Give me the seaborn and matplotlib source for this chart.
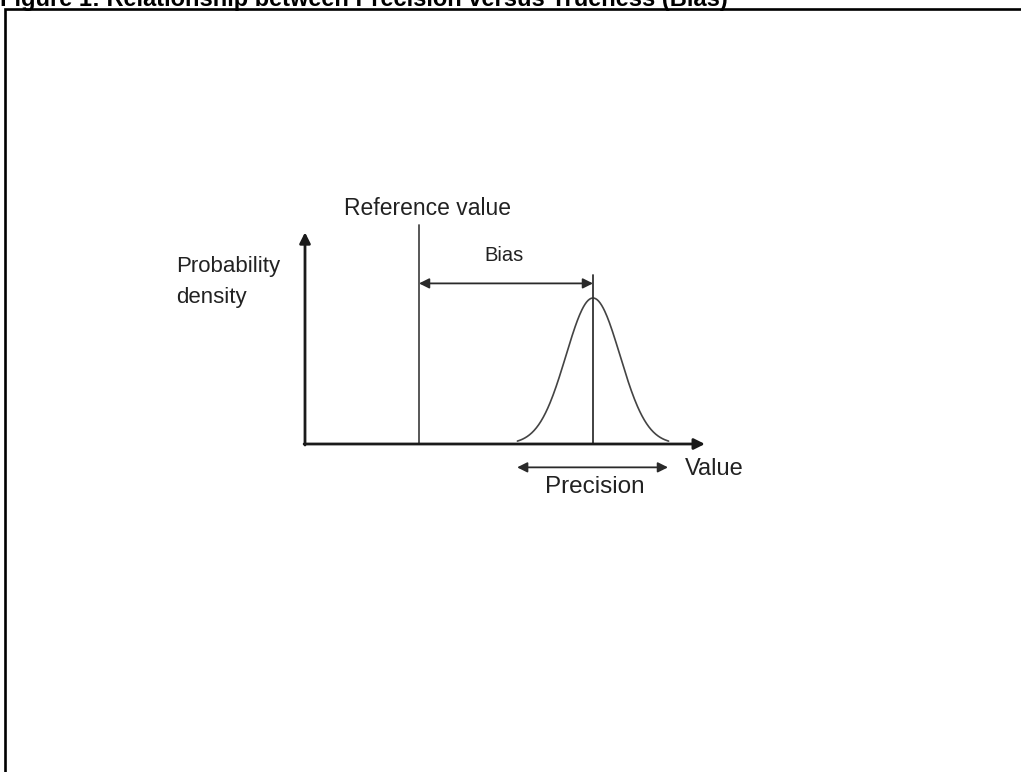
import numpy as np
import pandas as pd
import matplotlib
matplotlib.use("Agg")
import matplotlib.pyplot as plt
from matplotlib.patches import Rectangle
import seaborn as sns

# schematic values (x in value units from the y axis, y as density with peak = 1)
ref_value = 3.8
mean_value = 9.6
sigma = 0.9
peak_density = 1.0
curve_halfwidth = 2.8           # sigmas drawn each side of the mean
x_axis_end = 13.33
y_axis_top = 1.45
ref_line_top = 1.5
mean_line_top = 1.16
bias_level = 1.10
precision_range = [7.07, 12.1]
precision_level = -0.16

title = "Figure 1: Relationship between Precision versus Trueness (Bias)"
ylabel_text = "Probability\ndensity"
xlabel_text = "Value"
ref_label = "Reference value"
bias_label = "Bias"
precision_label = "Precision"

sns.set_theme(style="white")
plt.rcParams["font.family"] = ["Liberation Sans", "DejaVu Sans"]

fig = plt.figure(figsize=(10.21, 7.72), dpi=100)
ax = fig.add_axes([0, 0, 1, 1])
ax.set_xlim(-305 / 30, (1021 - 305) / 30)
ax.set_ylim((444 - 772) / 146, 444 / 146)
ax.axis("off")

line_col = "#2a2a2a"

# normal density curve
xs = np.linspace(mean_value - curve_halfwidth * sigma, mean_value + curve_halfwidth * sigma, 200)
curve = pd.DataFrame({"x": xs, "density": peak_density * np.exp(-0.5 * ((xs - mean_value) / sigma) ** 2)})
sns.lineplot(data=curve, x="x", y="density", ax=ax, color="#444444", lw=1.2)

# axes with arrows
axis_arrow = dict(arrowstyle="-|>", color="#1a1a1a", lw=2.0, mutation_scale=16, shrinkA=0, shrinkB=0)
ax.annotate("", xy=(x_axis_end, 0), xytext=(-0.03, 0), arrowprops=axis_arrow)
ax.annotate("", xy=(0, y_axis_top), xytext=(0, -0.007), arrowprops=axis_arrow)

# reference and mean lines
ax.plot([ref_value, ref_value], [0, ref_line_top], color="#4a4a4a", lw=1.3)
ax.plot([mean_value, mean_value], [0, mean_line_top], color="#333333", lw=1.3)

# bias and precision arrows
both = dict(arrowstyle="<|-|>", color=line_col, lw=1.3, mutation_scale=15, shrinkA=0, shrinkB=0)
ax.annotate("", xy=(mean_value, bias_level), xytext=(ref_value, bias_level), arrowprops=both)
ax.annotate("", xy=(precision_range[1], precision_level), xytext=(precision_range[0], precision_level), arrowprops=both)

# labels
txt = dict(color="#222222")
ax.text(4.07, 1.61, ref_label, ha="center", va="center", fontsize=16.5, **txt)
ax.text(6.63, 1.29, bias_label, ha="center", va="center", fontsize=14.5, **txt)
ax.text(-4.3, 1.11, ylabel_text, ha="left", va="center", fontsize=16, linespacing=1.6, **txt)
ax.text(12.67, -0.171, xlabel_text, ha="left", va="center", fontsize=17, **txt)
ax.text(9.67, -0.295, precision_label, ha="center", va="center", fontsize=17.5, **txt)

# frame and title
fig.add_artist(Rectangle((5 / 1021, -0.1), 2, 1 - 9 / 772 + 0.1, transform=fig.transFigure,
                         fill=False, lw=1.9, edgecolor="black"))
fig.text(0, 1 - 6 / 772, title, ha="left", va="baseline", fontsize=17, fontweight="bold", color="black")

fig.savefig("out.png", dpi=100)
